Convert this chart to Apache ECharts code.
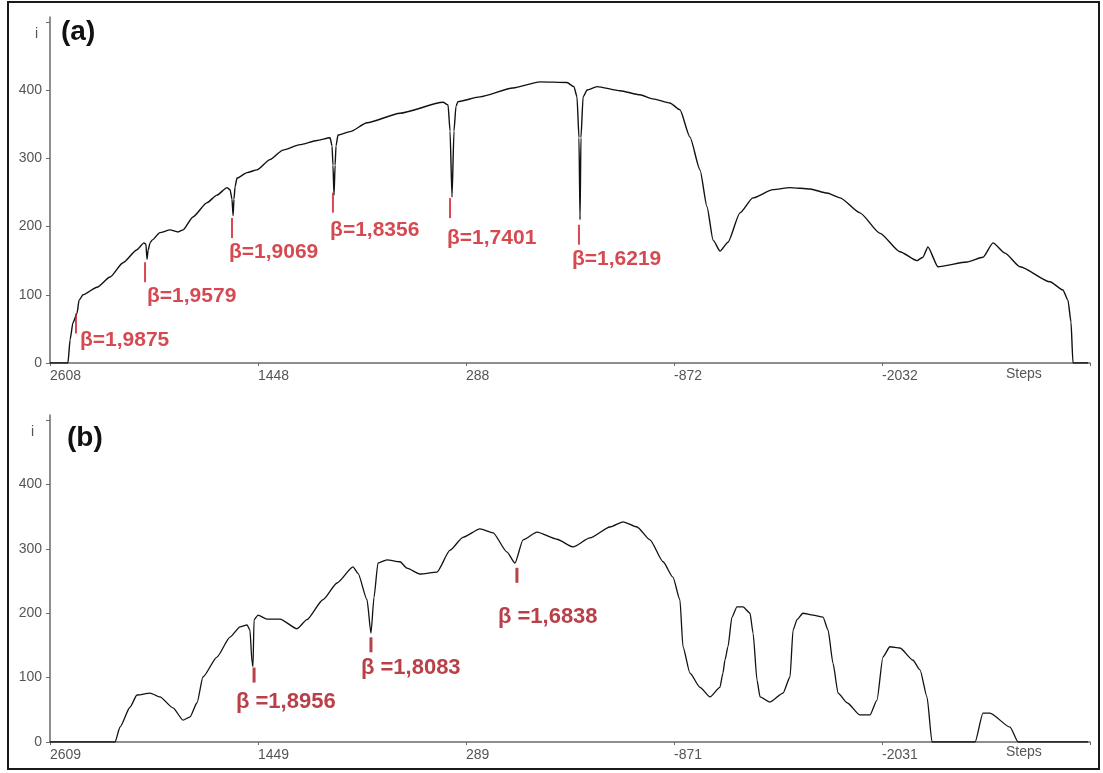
<!DOCTYPE html>
<html><head><meta charset="utf-8">
<script src="https://cdn.jsdelivr.net/npm/echarts@6/dist/echarts.min.js"></script>
<style>html,body{margin:0;padding:0;background:#fff}#c{width:1103px;height:773px}</style>
</head><body><div id="c"></div>
<script>
// ---- Panel (a) data: steps vs intensity i ----
const stepsA = [2608,2508,2496,2480,2457,2446,2424,2346,2273,2201,2123,2084,2073,2067,2061,2050,2039,1995,1939,1894,1866,1811,1732,1677,1621,1604,1593,1587,1582,1576,1565,1509,1454,1381,1309,1214,1119,1046,1035,1030,1024,1018,1013,1002,935,840,656,416,388,377,366,355,344,333,210,26,-125,-275,-314,-331,-342,-348,-353,-365,-387,-443,-571,-682,-755,-849,-905,-961,-1017,-1056,-1090,-1129,-1173,-1240,-1312,-1424,-1519,-1630,-1725,-1798,-1909,-2021,-2132,-2227,-2260,-2288,-2344,-2506,-2595,-2651,-2718,-2802,-2969,-3041,-3069,-3086,-3097,-3181];
const valuesA = [0,0,34,59,73,92,100,111,126,147,166,176,174,152,165,176,180,191,195,192,195,214,235,246,257,254,240,216,240,258,271,279,283,298,312,320,326,330,318,290,246,290,318,334,339,352,366,382,378,340,243,340,376,383,390,403,412,411,405,390,330,210,330,390,400,405,399,393,387,381,371,331,283,229,180,164,177,220,242,254,257,255,249,242,220,190,163,150,155,170,141,148,155,176,161,141,119,107,92,60,0,0];

// ---- Panel (b) data ----
const stepsB = [2609,2246,2219,2163,2124,2051,1996,1923,1867,1828,1789,1756,1678,1605,1549,1510,1494,1482,1477,1471,1449,1399,1326,1232,1176,1087,1008,919,891,841,819,802,780,730,657,618,546,451,378,306,211,138,60,16,-29,-107,-218,-308,-402,-514,-587,-665,-737,-810,-865,-904,-921,-960,-1016,-1072,-1127,-1144,-1155,-1172,-1194,-1222,-1256,-1295,-1312,-1334,-1351,-1406,-1479,-1518,-1535,-1557,-1590,-1646,-1702,-1730,-1758,-1786,-1836,-1908,-1964,-2003,-2036,-2075,-2131,-2204,-2243,-2282,-2310,-2550,-2594,-2633,-2745,-2790,-3180];
const valuesB = [0,0,23,54,73,76,70,53,34,39,61,101,132,163,179,182,174,123,117,190,197,191,191,176,190,221,247,272,262,221,169,225,278,283,280,270,261,264,298,318,331,325,295,278,314,326,315,303,317,334,342,334,314,280,256,221,148,107,85,70,85,107,127,148,194,210,210,200,169,96,70,62,76,101,174,190,200,197,194,174,122,76,61,42,42,65,132,148,146,127,112,70,0,0,45,45,23,0,0];

// ---- Axis ticks ----
const tickLabelsA = [2608,1448,288,-872,-2032];
const tickLabelsB = [2609,1449,289,-871,-2031];
const yTicks = [0,100,200,300,400];
const yTickMarks = [0,100,200,300,400,500];

// ---- Annotations (beta values) ----
const betaLabelsA = ['β=1,9875','β=1,9579','β=1,9069','β=1,8356','β=1,7401','β=1,6219'];
const betaMarkA = [[2463,58],[2078,133],[1593,198],[1030,235],[377,227],[-342,188]];
const betaTextA = [[2441,34],[2067,98],[1610,163],[1046,195],[394,183],[-303,152]];
const betaLabelsB = ['β =1,8956','β =1,8083','β =1,6838'];
const betaMarkB = [[1471,104],[819,151],[5,259]];
const betaTextB = [[1572,62],[875,115],[111,194]];

const zip = (a,b)=>a.map((x,i)=>[x,b[i]]);
const chart = echarts.init(document.getElementById('c'), null, {renderer:'canvas'});
const axisCol = '#6a6a6a';
const labCol = '#555';
function xAxisCfg(gi, ticks){
  const mx = ticks[0], mn = ticks[0] - 5*1160;
  return {type:'value', gridIndex:gi, inverse:true, min:mn, max:mx, interval:1160,
    axisLine:{onZero:false,lineStyle:{color:axisCol,width:1.5}},
    axisTick:{show:true,length:3,lineStyle:{color:axisCol}},
    splitLine:{show:false},
    axisLabel:{color:labCol,fontSize:14,fontFamily:'Liberation Sans, Arial',align:'left',margin:6,
      formatter:v=> (ticks.indexOf(Math.round(v))>=0 ? String(Math.round(v)) : '')}};
}
function yAxisCfg(gi, max){
  return {type:'value', gridIndex:gi, min:0, max:max, interval:100, position:'left',
    axisLine:{show:true,onZero:false,lineStyle:{color:axisCol,width:1.5}},
    axisTick:{show:true,length:4,customValues:yTickMarks,lineStyle:{color:axisCol}},
    splitLine:{show:false},
    axisLabel:{color:labCol,fontSize:14,fontFamily:'Liberation Sans, Arial',margin:8,customValues:yTicks,
      formatter:v=> (yTicks.indexOf(v)>=0 ? String(v) : '')}};
}
function betaSeries(xi, marks, texts, labels, col, fs, msize){
  return [
    {type:'scatter', xAxisIndex:xi, yAxisIndex:xi, symbol:'rect', symbolSize:msize, silent:true,
      itemStyle:{color:col}, data:marks, z:5},
    {type:'scatter', xAxisIndex:xi, yAxisIndex:xi, symbolSize:0, silent:true,
      data:texts.map((p,i)=>({value:p,name:labels[i]})),
      label:{show:true,position:'right',distance:0,formatter:p=>p.name,color:col,fontSize:fs,
        fontWeight:'bold',fontFamily:'Liberation Sans, Arial'}, z:6}
  ];
}
chart.setOption({
  animation:false,
  backgroundColor:'#fff',
  grid:[{left:50,right:13,top:17,height:346},{left:50,right:13,top:415,height:327}],
  xAxis:[xAxisCfg(0,tickLabelsA), xAxisCfg(1,tickLabelsB)],
  yAxis:[yAxisCfg(0,507), yAxisCfg(1,508)],
  series:[
    {type:'line', xAxisIndex:0, yAxisIndex:0, data:zip(stepsA,valuesA), showSymbol:false,
      smooth:0.2, smoothMonotone:'x', lineStyle:{color:'#111',width:1.4}, z:3},
    {type:'line', xAxisIndex:1, yAxisIndex:1, data:zip(stepsB,valuesB), showSymbol:false,
      smooth:0.2, smoothMonotone:'x', lineStyle:{color:'#111',width:1.3}, z:3},
    ...betaSeries(0, betaMarkA, betaTextA, betaLabelsA, '#cc1c24', 21, [2,20]),
    ...betaSeries(1, betaMarkB, betaTextB, betaLabelsB, '#a8101a', 22, [3,15])
  ],
  graphic:[
    {type:'rect', shape:{x:8,y:2,width:1091,height:767}, style:{fill:'none',stroke:'#1a1a1a',lineWidth:2}},
    {type:'text', left:61, top:18, style:{text:'(a)',font:'bold 28px Liberation Sans, Arial',fill:'#111'}},
    {type:'text', left:67, top:424, style:{text:'(b)',font:'bold 28px Liberation Sans, Arial',fill:'#111'}},
    {type:'text', left:35, top:27, style:{text:'i',font:'14px Liberation Sans, Arial',fill:labCol}},
    {type:'text', left:31, top:425, style:{text:'i',font:'14px Liberation Sans, Arial',fill:labCol}},
    {type:'text', left:1006, top:367, style:{text:'Steps',font:'14px Liberation Sans, Arial',fill:labCol}},
    {type:'text', left:1006, top:745, style:{text:'Steps',font:'14px Liberation Sans, Arial',fill:labCol}}
  ]
});
</script></body></html>
